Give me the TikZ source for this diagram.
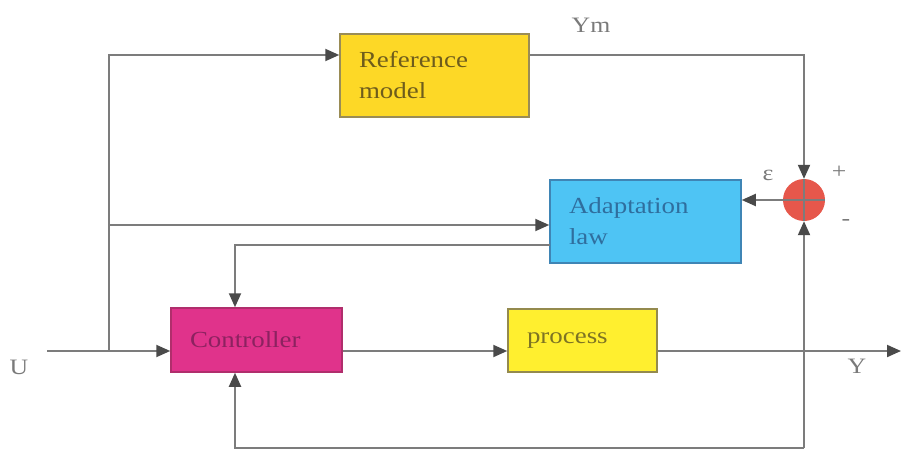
\documentclass[tikz,border=0pt]{standalone}
\usepackage{fontspec}
\setmainfont{Liberation Serif}[FakeStretch=1.17]
\usetikzlibrary{arrows.meta,calc}

\definecolor{wiregray}{HTML}{7C7C7C}
\definecolor{tipgray}{HTML}{4A4A4A}
\definecolor{refyellow}{HTML}{FDD826}
\definecolor{refedge}{HTML}{9A8C55}
\definecolor{reftext}{HTML}{6E5C1C}
\definecolor{adaptblue}{HTML}{4EC4F4}
\definecolor{adaptedge}{HTML}{3F85B5}
\definecolor{adapttext}{HTML}{2F6E9E}
\definecolor{ctrlpink}{HTML}{E0338B}
\definecolor{ctrledge}{HTML}{B02E6C}
\definecolor{ctrltext}{HTML}{8C2260}
\definecolor{procyellow}{HTML}{FFEF2F}
\definecolor{procedge}{HTML}{948A4E}
\definecolor{proctext}{HTML}{7D7324}
\definecolor{sumred}{HTML}{E6574B}
\definecolor{labelgray}{HTML}{7A7A7A}

\begin{document}
\begin{tikzpicture}[x=1pt,y=-1pt,
  wire/.style={draw=wiregray, line width=2pt},
  arr/.style={wire, -{Triangle[length=14pt,width=12pt,color=tipgray]}},
  block/.style={rectangle, line width=1.5pt, align=left, inner xsep=19pt,
    inner ysep=0pt, font=\fontsize{23}{31}\selectfont},
  sumnode/.style={circle, fill=sumred, minimum size=42pt, inner sep=0pt},
  lbl/.style={text=labelgray, inner sep=0pt, font=\fontsize{22}{26}\selectfont}]

\useasboundingbox (0,0) rectangle (901,452);

% blocks
\node[block, draw=refedge, fill=refyellow, text=reftext,
  text width=151pt, minimum height=83pt] (ref) at (434.5,75.5) {Reference\\model};
\node[block, draw=adaptedge, fill=adaptblue, text=adapttext,
  text width=153pt, minimum height=83pt] (adapt) at (645.5,221.5) {Adaptation\\law};
\node[block, draw=ctrledge, fill=ctrlpink, text=ctrltext,
  text width=133pt, minimum height=64pt] (ctrl) at (256.5,340) {Controller};
\node[block, draw=procedge, fill=procyellow, text=proctext,
  text width=111pt, minimum height=63pt] (proc) at (582.5,340.5) {process};
\node[sumnode] (sum) at (804,200) {};

% junctions and corners
\coordinate (uin) at (47,351);
\coordinate (split) at (109,351);
\coordinate (tl) at (109,55);
\coordinate (mid) at (109,225);
\coordinate (lawout) at (550,245);
\coordinate (cx) at (235,0);
\coordinate (yout) at (901,351);
\coordinate (fbcorner) at (804,448);

% input branches
\draw[arr] (uin) -- (ctrl.west |- uin);
\draw[arr] (split) -- (tl) -- (ref.west |- tl);
\draw[arr] (mid) -- (adapt.west |- mid);

% reference output to the comparator
\draw[arr] (ref.east |- tl) -- (sum.center |- tl) -- (sum.north);
\draw[wire] (sum.north) -- (sum.south);
\draw[wire] (sum.west) -- (sum.east);
\draw[arr] (sum.west) -- (adapt.east |- sum.center);

% adaptation law to controller
\draw[arr] (lawout) -| (cx |- ctrl.north);

% forward path
\draw[arr] (ctrl.east |- uin) -- (proc.west |- uin);
\draw[arr] (proc.east |- uin) -- (yout);

% plant output feedback
\draw[arr] (fbcorner) -- (sum.south);
\draw[arr] (fbcorner) -- (cx |- fbcorner) -- (cx |- ctrl.south);

% labels
\node[lbl] (ym) at (591,25) {Ym};
\node[lbl] (eps) at (768,175) {ε};
\node[lbl] (plus) at (839,172) {+};
\node[lbl] (minus) at (846,222) {-};
\node[lbl] (u) at (19,367) {U};
\node[lbl] (y) at (857,366) {Y};
\end{tikzpicture}
\end{document}
